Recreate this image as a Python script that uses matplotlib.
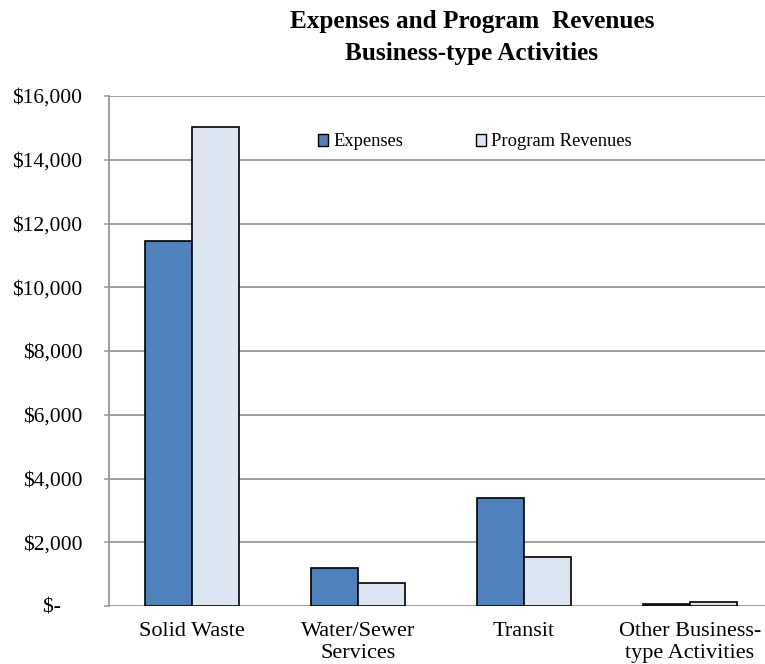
import matplotlib
matplotlib.use("Agg")
import matplotlib.pyplot as plt
from matplotlib.patches import Patch
from matplotlib.ticker import FuncFormatter
import numpy as np

# Business-type activities (in thousands of dollars)
categories = ["Solid Waste", "Water/Sewer\nServices", "Transit", "Other Business-\ntype Activities"]
expenses = [11460, 1180, 3380, 60]
program_revenues = [15020, 710, 1550, 120]
series_names = ["Expenses", "Program Revenues"]
y_ticks = [0, 2000, 4000, 6000, 8000, 10000, 12000, 14000, 16000]

plt.rcParams["font.family"] = ["Liberation Serif", "DejaVu Serif"]

W, H = 765, 664
fig = plt.figure(figsize=(W / 100, H / 100), dpi=100)
ax = fig.add_axes([109 / W, 1 - 606 / H, 664 / W, 510 / H])

exp_color = "#4F81BD"
rev_color = "#DCE6F2"
grid_color = "#979797"

x = np.arange(len(categories))
bw = 0.285
ax.bar(x - bw / 2, expenses, bw, color=exp_color, edgecolor="black", linewidth=1.2, zorder=3)
ax.bar(x + bw / 2, program_revenues, bw, color=rev_color, edgecolor="black", linewidth=1.2, zorder=3)

ax.set_xlim(-0.5, len(categories) - 0.5)
ax.set_ylim(0, 16000)
ax.set_yticks(y_ticks)


def money(v, _pos):
    if v == 0:
        return "$-\u2007\u2007"
    return f"${v:,.0f}"


ax.yaxis.set_major_formatter(FuncFormatter(money))
ax.yaxis.grid(True, color=grid_color, linewidth=1.3, zorder=0)
ax.set_axisbelow(True)

for side in ("top", "right", "bottom"):
    ax.spines[side].set_visible(False)
ax.spines["left"].set_color(grid_color)
ax.spines["left"].set_linewidth(1.3)

ax.tick_params(axis="y", length=3.6, width=1.1, color=grid_color, pad=15.5, labelsize=15.5)
ax.set_xticks(x)
ax.set_xticklabels(categories, fontsize=16, linespacing=1.2)
ax.tick_params(axis="x", length=0, pad=11.5)

fig.text(472 / W, 1 - 10 / H, "Expenses and Program  Revenues\nBusiness-type Activities",
         ha="center", va="top", fontsize=18.2, fontweight="bold", linespacing=1.5)

handles = [Patch(facecolor=exp_color, edgecolor="black", linewidth=1.0),
           Patch(facecolor=rev_color, edgecolor="black", linewidth=1.0)]
fig.legend(handles, series_names, loc="center left",
           bbox_to_anchor=(318 / W, 1 - 142 / H), ncol=2, frameon=False,
           fontsize=13.3, handlelength=0.55, handleheight=0.55,
           handletextpad=0.3, columnspacing=3.9, borderpad=0, borderaxespad=0)

fig.savefig("out.png", dpi=100)
